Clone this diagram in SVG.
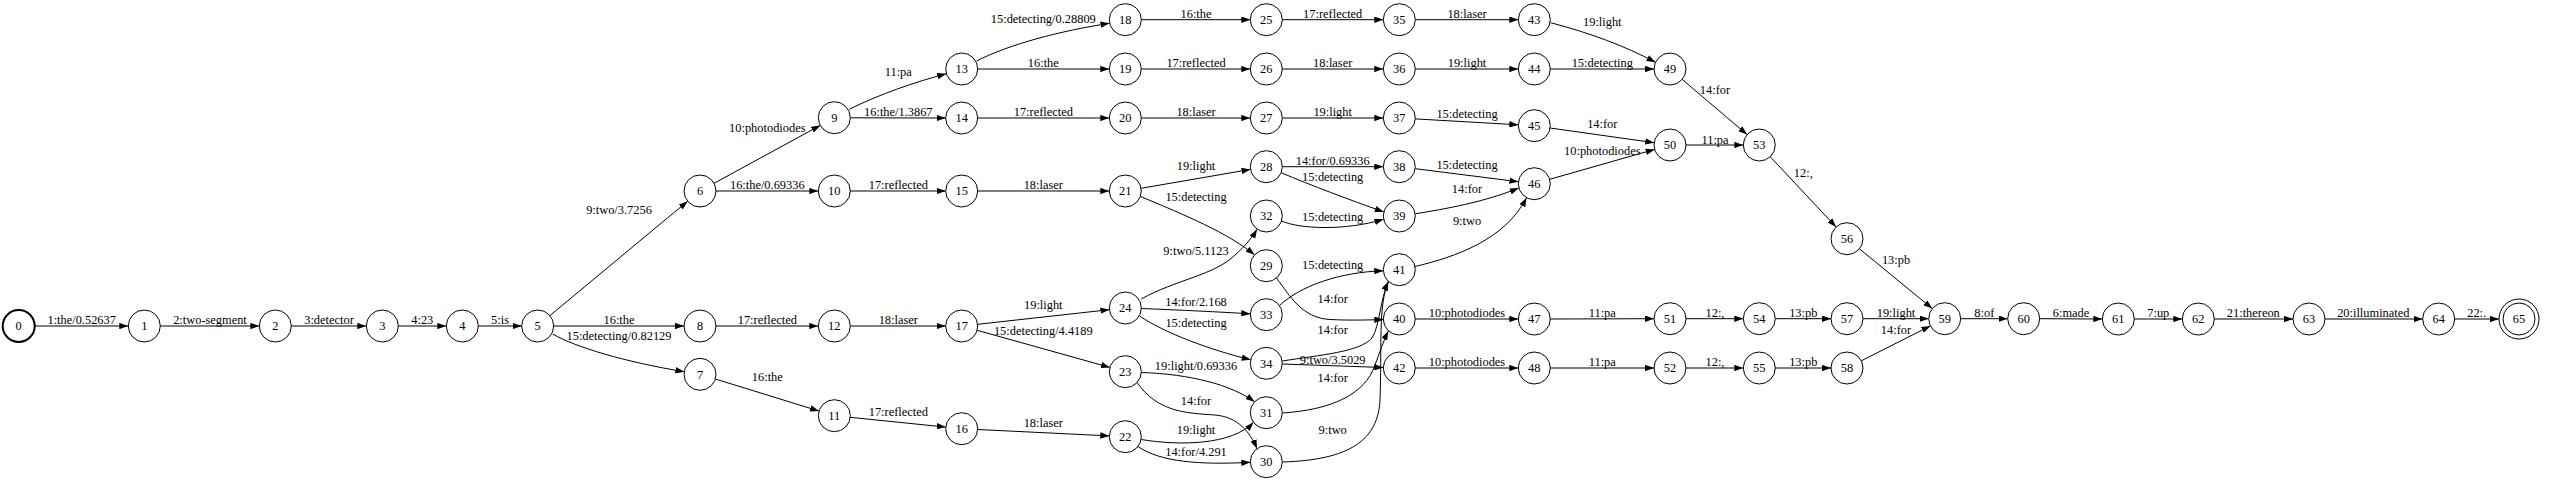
<svg xmlns="http://www.w3.org/2000/svg" width="2550" height="482" viewBox="0 0 2550 482">
<defs>
<marker id="arr" markerUnits="userSpaceOnUse" markerWidth="9" markerHeight="6.4" viewBox="0 0 9 6.4" refX="9" refY="3.2" orient="auto">
<path d="M0,0 L9,3.2 L0,6.4 z" fill="#000"/>
</marker>
</defs>
<style>
text{font-family:"Liberation Serif","Times New Roman",serif;font-size:12.4px;fill:#000;text-anchor:middle}
.n circle{fill:#fff;stroke:#000;stroke-width:1}
.e path{fill:none;stroke:#000;stroke-width:1;marker-end:url(#arr)}
</style>
<rect width="2550" height="482" fill="#fff"/>
<g id="edges">
<g class="e"><path d="M35,326 L128.3,326"/><text x="81.7" y="324">1:the/0.52637</text></g>
<g class="e"><path d="M160.3,326 L259.3,326"/><text x="210" y="324">2:two-segment</text></g>
<g class="e"><path d="M291.3,326 L366.3,326"/><text x="329" y="324">3:detector</text></g>
<g class="e"><path d="M398.3,326 L446.3,326"/><text x="422.3" y="324">4:23</text></g>
<g class="e"><path d="M478.3,326 L521.7,326"/><text x="500" y="324">5:is</text></g>
<g class="e"><path d="M550,315.5 L687.7,201.2"/><text x="619" y="214">9:two/3.7256</text></g>
<g class="e"><path d="M553.7,326 L684,326"/><text x="619" y="324">16:the</text></g>
<g class="e"><path d="M552.7,334 C575,347 625,362 684.3,371.7"/><text x="619" y="340">15:detecting/0.82129</text></g>
<g class="e"><path d="M714,183.3 L820.3,125.4"/><text x="767.3" y="132">10:photodiodes</text></g>
<g class="e"><path d="M716,191 L818.3,191"/><text x="767.3" y="189">16:the/0.69336</text></g>
<g class="e"><path d="M716,326 L818.3,326"/><text x="767.3" y="324">17:reflected</text></g>
<g class="e"><path d="M715.3,379 L819,411"/><text x="767.3" y="380.5">16:the</text></g>
<g class="e"><path d="M849.3,109.3 C880,94 915,82 946.3,73.8"/><text x="898.3" y="75.5">11:pa</text></g>
<g class="e"><path d="M850.3,117.8 L945.7,118"/><text x="898.3" y="116">16:the/1.3867</text></g>
<g class="e"><path d="M976.5,61 C1010,44 1060,31 1109.5,23.3"/><text x="1043.3" y="23">15:detecting/0.28809</text></g>
<g class="e"><path d="M977.7,69 L1109.3,69"/><text x="1043.3" y="66.7">16:the</text></g>
<g class="e"><path d="M977.7,118 L1109.3,118"/><text x="1043.3" y="116">17:reflected</text></g>
<g class="e"><path d="M850.3,191 L945.7,191"/><text x="898.3" y="189">17:reflected</text></g>
<g class="e"><path d="M977.7,191 L1109.3,191"/><text x="1043.3" y="189">18:laser</text></g>
<g class="e"><path d="M850.3,326 L945.7,326"/><text x="898.3" y="324">18:laser</text></g>
<g class="e"><path d="M977.6,324.3 L1109.4,309.7"/><text x="1043.3" y="309">19:light</text></g>
<g class="e"><path d="M977.1,330.3 L1109.9,367.4"/><text x="1043.3" y="335">15:detecting/4.4189</text></g>
<g class="e"><path d="M850.2,417.3 L945.8,427.1"/><text x="898.3" y="416">17:reflected</text></g>
<g class="e"><path d="M977.7,429.5 L1109.3,435.9"/><text x="1043.3" y="427.3">18:laser</text></g>
<g class="e"><path d="M1141.3,19.7 L1250.3,19.7"/><text x="1196" y="18">16:the</text></g>
<g class="e"><path d="M1141.3,69 L1250.3,69"/><text x="1196" y="66.7">17:reflected</text></g>
<g class="e"><path d="M1141.3,118 L1250.3,118"/><text x="1196" y="116">18:laser</text></g>
<g class="e"><path d="M1141.1,188.3 L1250.5,169.4"/><text x="1196" y="170">19:light</text></g>
<g class="e"><path d="M1140.5,196.5 C1185,215 1228,233 1254.5,254.8"/><text x="1196" y="201.3">15:detecting</text></g>
<g class="e"><path d="M1141.3,299 C1175,280 1215,275 1235,255 C1245,246 1252,238 1257,229.3"/><text x="1196" y="254.7">9:two/5.1123</text></g>
<g class="e"><path d="M1141.3,308.5 C1180,310 1220,312 1250.3,313.8"/><text x="1196" y="306">14:for/2.168</text></g>
<g class="e"><path d="M1139.5,316 C1165,333 1210,350 1250.7,359.7"/><text x="1196" y="327.3">15:detecting</text></g>
<g class="e"><path d="M1141.3,372.5 C1190,374 1232,385 1254.5,401.8"/><text x="1196" y="370">19:light/0.69336</text></g>
<g class="e"><path d="M1137,382.5 C1158,412 1185,413 1215,415 C1238,417 1250,432 1257,448.7"/><text x="1196" y="405">14:for</text></g>
<g class="e"><path d="M1141.3,439.5 C1180,446 1232,445 1253.5,422.3"/><text x="1196" y="434">19:light</text></g>
<g class="e"><path d="M1138,446.5 C1160,462 1200,465 1250.3,462.3"/><text x="1196" y="456">14:for/4.291</text></g>
<g class="e"><path d="M1282.3,19.7 L1383.3,19.7"/><text x="1332.7" y="18">17:reflected</text></g>
<g class="e"><path d="M1282.3,69 L1383.3,69"/><text x="1332.7" y="66.7">18:laser</text></g>
<g class="e"><path d="M1282.3,118 L1383.3,118"/><text x="1332.7" y="116">19:light</text></g>
<g class="e"><path d="M1415.3,19.7 L1518.3,19.7"/><text x="1467" y="18">18:laser</text></g>
<g class="e"><path d="M1415.3,69 L1518.3,69"/><text x="1467" y="66.7">19:light</text></g>
<g class="e"><path d="M1282.3,166.7 L1383.3,166.7"/><text x="1332.7" y="165">14:for/0.69336</text></g>
<g class="e"><path d="M1281.2,172.7 C1310,185 1350,200 1383.8,211.9"/><text x="1332.7" y="181">15:detecting</text></g>
<g class="e"><path d="M1281.5,221 C1300,229 1345,231 1383.5,219.3"/><text x="1332.7" y="221.3">15:detecting</text></g>
<g class="e"><path d="M1276.5,278 C1290,296 1302,318 1330,319.5 C1350,320.5 1365,320 1383.3,319.6"/><text x="1332.7" y="303.3">14:for</text></g>
<g class="e"><path d="M1279.5,305.6 C1300,286 1340,272 1383.3,270.8"/><text x="1332.7" y="269.3">15:detecting</text></g>
<g class="e"><path d="M1282.3,361 C1320,355 1360,352 1372,338 C1380,325 1380,300 1388.3,281.7"/><text x="1332.7" y="334">14:for</text></g>
<g class="e"><path d="M1282.3,364 L1383.3,367.5"/><text x="1332.7" y="364">9:two/3.5029</text></g>
<g class="e"><path d="M1282.3,413 C1330,410 1365,395 1375,365 C1380,352 1383,342 1388.3,331.1"/><text x="1332.7" y="382.3">14:for</text></g>
<g class="e"><path d="M1282.3,462 C1350,460 1378,440 1380,400 C1382,350 1378,305 1388.3,281.7"/><text x="1332.7" y="434">9:two</text></g>
<g class="e"><path d="M1415.3,118.9 L1518.3,124.8"/><text x="1467" y="118.3">15:detecting</text></g>
<g class="e"><path d="M1415.2,168.7 L1518.4,181.7"/><text x="1467" y="169.3">15:detecting</text></g>
<g class="e"><path d="M1415.2,213.8 C1445,209 1485,202 1518.8,188"/><text x="1467" y="193">14:for</text></g>
<g class="e"><path d="M1415,266.5 C1455,257 1505,240 1526.5,197.7"/><text x="1467" y="225">9:two</text></g>
<g class="e"><path d="M1550.6,22.7 C1590,33 1625,46 1655.5,62.3"/><text x="1602.3" y="26">19:light</text></g>
<g class="e"><path d="M1550.3,69 L1654,69"/><text x="1602.3" y="66.7">15:detecting</text></g>
<g class="e"><path d="M1550.1,128 L1654.2,142.7"/><text x="1602.3" y="128">14:for</text></g>
<g class="e"><path d="M1549.7,179.3 L1654.6,149.4"/><text x="1602.3" y="155">10:photodiodes</text></g>
<g class="e"><path d="M1682.2,79.4 L1747.1,134.6"/><text x="1715" y="93.7">14:for</text></g>
<g class="e"><path d="M1686,145 L1743.3,145"/><text x="1715" y="144">11:pa</text></g>
<g class="e"><path d="M1770.2,156.7 L1836.1,227"/><text x="1803.3" y="177">12:,</text></g>
<g class="e"><path d="M1859.4,248.8 L1932.3,308.6"/><text x="1896" y="263.7">13:pb</text></g>
<g class="e"><path d="M1415.3,319 L1518.3,319"/><text x="1467" y="317.3">10:photodiodes</text></g>
<g class="e"><path d="M1415.3,368 L1518.3,368"/><text x="1467" y="366.3">10:photodiodes</text></g>
<g class="e"><path d="M1550.3,319 L1654,318.7"/><text x="1602.3" y="317.3">11:pa</text></g>
<g class="e"><path d="M1550.3,368 L1654,368"/><text x="1602.3" y="366.3">11:pa</text></g>
<g class="e"><path d="M1686,318.7 L1743.3,318.7"/><text x="1715" y="317.3">12:,</text></g>
<g class="e"><path d="M1686,368 L1743.3,368"/><text x="1715" y="366.3">12:,</text></g>
<g class="e"><path d="M1775.3,318.7 L1831,318.7"/><text x="1803.3" y="317.3">13:pb</text></g>
<g class="e"><path d="M1775.3,368 L1831,368"/><text x="1803.3" y="366.3">13:pb</text></g>
<g class="e"><path d="M1863,318.7 L1928.7,318.7"/><text x="1896" y="317.3">19:light</text></g>
<g class="e"><path d="M1861.3,360.8 L1930.4,325.9"/><text x="1896" y="333.7">14:for</text></g>
<g class="e"><path d="M1960.7,318.7 L2007.7,318.7"/><text x="1984.3" y="317.3">8:of</text></g>
<g class="e"><path d="M2039.7,318.7 L2102.3,319"/><text x="2071" y="317.3">6:made</text></g>
<g class="e"><path d="M2134.3,319 L2182.3,319"/><text x="2158.3" y="317.3">7:up</text></g>
<g class="e"><path d="M2214.3,319 L2293,319"/><text x="2253.3" y="317.3">21:thereon</text></g>
<g class="e"><path d="M2325,319 L2422.7,319"/><text x="2373.3" y="317.3">20:illuminated</text></g>
<g class="e"><path d="M2454.7,319 L2499,319"/><text x="2476.7" y="317.3">22:.</text></g>
</g>
<g id="node0" class="n"><circle cx="18.7" cy="326" r="16" style="stroke-width:2"/><text x="18.7" y="330.3">0</text></g>
<g id="node1" class="n"><circle cx="144.3" cy="326" r="16"/><text x="144.3" y="330.3">1</text></g>
<g id="node2" class="n"><circle cx="275.3" cy="326" r="16"/><text x="275.3" y="330.3">2</text></g>
<g id="node3" class="n"><circle cx="382.3" cy="326" r="16"/><text x="382.3" y="330.3">3</text></g>
<g id="node4" class="n"><circle cx="462.3" cy="326" r="16"/><text x="462.3" y="330.3">4</text></g>
<g id="node5" class="n"><circle cx="537.7" cy="326" r="16"/><text x="537.7" y="330.3">5</text></g>
<g id="node6" class="n"><circle cx="700" cy="191" r="16"/><text x="700" y="195.3">6</text></g>
<g id="node7" class="n"><circle cx="700" cy="374.3" r="16"/><text x="700" y="378.6">7</text></g>
<g id="node8" class="n"><circle cx="700" cy="326" r="16"/><text x="700" y="330.3">8</text></g>
<g id="node9" class="n"><circle cx="834.3" cy="117.7" r="16"/><text x="834.3" y="122">9</text></g>
<g id="node10" class="n"><circle cx="834.3" cy="191" r="16"/><text x="834.3" y="195.3">10</text></g>
<g id="node11" class="n"><circle cx="834.3" cy="415.7" r="16"/><text x="834.3" y="420">11</text></g>
<g id="node12" class="n"><circle cx="834.3" cy="326" r="16"/><text x="834.3" y="330.3">12</text></g>
<g id="node13" class="n"><circle cx="961.7" cy="69" r="16"/><text x="961.7" y="73.3">13</text></g>
<g id="node14" class="n"><circle cx="961.7" cy="118" r="16"/><text x="961.7" y="122.3">14</text></g>
<g id="node15" class="n"><circle cx="961.7" cy="191" r="16"/><text x="961.7" y="195.3">15</text></g>
<g id="node16" class="n"><circle cx="961.7" cy="428.7" r="16"/><text x="961.7" y="433">16</text></g>
<g id="node17" class="n"><circle cx="961.7" cy="326" r="16"/><text x="961.7" y="330.3">17</text></g>
<g id="node18" class="n"><circle cx="1125.3" cy="19.7" r="16"/><text x="1125.3" y="24">18</text></g>
<g id="node19" class="n"><circle cx="1125.3" cy="69" r="16"/><text x="1125.3" y="73.3">19</text></g>
<g id="node20" class="n"><circle cx="1125.3" cy="118" r="16"/><text x="1125.3" y="122.3">20</text></g>
<g id="node21" class="n"><circle cx="1125.3" cy="191" r="16"/><text x="1125.3" y="195.3">21</text></g>
<g id="node22" class="n"><circle cx="1125.3" cy="436.7" r="16"/><text x="1125.3" y="441">22</text></g>
<g id="node23" class="n"><circle cx="1125.3" cy="371.7" r="16"/><text x="1125.3" y="376">23</text></g>
<g id="node24" class="n"><circle cx="1125.3" cy="308" r="16"/><text x="1125.3" y="312.3">24</text></g>
<g id="node25" class="n"><circle cx="1266.3" cy="19.7" r="16"/><text x="1266.3" y="24">25</text></g>
<g id="node26" class="n"><circle cx="1266.3" cy="69" r="16"/><text x="1266.3" y="73.3">26</text></g>
<g id="node27" class="n"><circle cx="1266.3" cy="118" r="16"/><text x="1266.3" y="122.3">27</text></g>
<g id="node28" class="n"><circle cx="1266.3" cy="166.7" r="16"/><text x="1266.3" y="171">28</text></g>
<g id="node29" class="n"><circle cx="1266.3" cy="265.7" r="16"/><text x="1266.3" y="270">29</text></g>
<g id="node30" class="n"><circle cx="1266.3" cy="461.7" r="16"/><text x="1266.3" y="466">30</text></g>
<g id="node31" class="n"><circle cx="1266.3" cy="412.7" r="16"/><text x="1266.3" y="417">31</text></g>
<g id="node32" class="n"><circle cx="1266.3" cy="216" r="16"/><text x="1266.3" y="220.3">32</text></g>
<g id="node33" class="n"><circle cx="1266.3" cy="314.7" r="16"/><text x="1266.3" y="319">33</text></g>
<g id="node34" class="n"><circle cx="1266.3" cy="363.3" r="16"/><text x="1266.3" y="367.6">34</text></g>
<g id="node35" class="n"><circle cx="1399.3" cy="19.7" r="16"/><text x="1399.3" y="24">35</text></g>
<g id="node36" class="n"><circle cx="1399.3" cy="69" r="16"/><text x="1399.3" y="73.3">36</text></g>
<g id="node37" class="n"><circle cx="1399.3" cy="118" r="16"/><text x="1399.3" y="122.3">37</text></g>
<g id="node38" class="n"><circle cx="1399.3" cy="166.7" r="16"/><text x="1399.3" y="171">38</text></g>
<g id="node39" class="n"><circle cx="1399.3" cy="216" r="16"/><text x="1399.3" y="220.3">39</text></g>
<g id="node40" class="n"><circle cx="1399.3" cy="319" r="16"/><text x="1399.3" y="323.3">40</text></g>
<g id="node41" class="n"><circle cx="1399.3" cy="269.7" r="16"/><text x="1399.3" y="274">41</text></g>
<g id="node42" class="n"><circle cx="1399.3" cy="368" r="16"/><text x="1399.3" y="372.3">42</text></g>
<g id="node43" class="n"><circle cx="1534.3" cy="19.7" r="16"/><text x="1534.3" y="24">43</text></g>
<g id="node44" class="n"><circle cx="1534.3" cy="69" r="16"/><text x="1534.3" y="73.3">44</text></g>
<g id="node45" class="n"><circle cx="1534.3" cy="125.7" r="16"/><text x="1534.3" y="130">45</text></g>
<g id="node46" class="n"><circle cx="1534.3" cy="183.7" r="16"/><text x="1534.3" y="188">46</text></g>
<g id="node47" class="n"><circle cx="1534.3" cy="319" r="16"/><text x="1534.3" y="323.3">47</text></g>
<g id="node48" class="n"><circle cx="1534.3" cy="368" r="16"/><text x="1534.3" y="372.3">48</text></g>
<g id="node49" class="n"><circle cx="1670" cy="69" r="16"/><text x="1670" y="73.3">49</text></g>
<g id="node50" class="n"><circle cx="1670" cy="145" r="16"/><text x="1670" y="149.3">50</text></g>
<g id="node51" class="n"><circle cx="1670" cy="318.7" r="16"/><text x="1670" y="323">51</text></g>
<g id="node52" class="n"><circle cx="1670" cy="368" r="16"/><text x="1670" y="372.3">52</text></g>
<g id="node53" class="n"><circle cx="1759.3" cy="145" r="16"/><text x="1759.3" y="149.3">53</text></g>
<g id="node54" class="n"><circle cx="1759.3" cy="318.7" r="16"/><text x="1759.3" y="323">54</text></g>
<g id="node55" class="n"><circle cx="1759.3" cy="368" r="16"/><text x="1759.3" y="372.3">55</text></g>
<g id="node56" class="n"><circle cx="1847" cy="238.7" r="16"/><text x="1847" y="243">56</text></g>
<g id="node57" class="n"><circle cx="1847" cy="318.7" r="16"/><text x="1847" y="323">57</text></g>
<g id="node58" class="n"><circle cx="1847" cy="368" r="16"/><text x="1847" y="372.3">58</text></g>
<g id="node59" class="n"><circle cx="1944.7" cy="318.7" r="16"/><text x="1944.7" y="323">59</text></g>
<g id="node60" class="n"><circle cx="2023.7" cy="318.7" r="16"/><text x="2023.7" y="323">60</text></g>
<g id="node61" class="n"><circle cx="2118.3" cy="319" r="16"/><text x="2118.3" y="323.3">61</text></g>
<g id="node62" class="n"><circle cx="2198.3" cy="319" r="16"/><text x="2198.3" y="323.3">62</text></g>
<g id="node63" class="n"><circle cx="2309" cy="319" r="16"/><text x="2309" y="323.3">63</text></g>
<g id="node64" class="n"><circle cx="2438.7" cy="319" r="16"/><text x="2438.7" y="323.3">64</text></g>
<g id="node65" class="n"><circle cx="2519" cy="319" r="20"/><circle cx="2519" cy="319" r="16"/><text x="2519" y="323.3">65</text></g>
</svg>
